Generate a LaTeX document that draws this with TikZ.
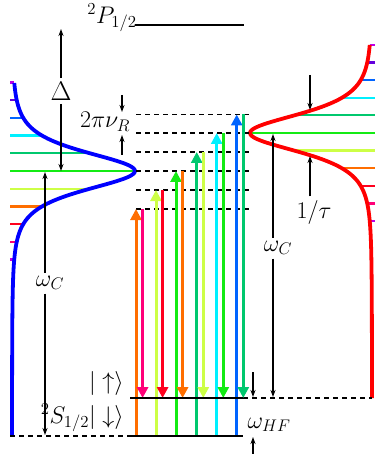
\RequirePackage{fix-cm}
\documentclass[tikz,border=0pt]{standalone}
\usepackage{fontspec}
\setmainfont{Liberation Serif}
\usepackage{amsmath,amssymb}
\usetikzlibrary{arrows.meta,calc}
\definecolor{spviolet}{RGB}{190,0,230}
\definecolor{sppurple}{RGB}{100,0,220}
\definecolor{spblue}{RGB}{0,100,255}
\definecolor{spcyan}{RGB}{0,240,255}
\definecolor{spteal}{RGB}{0,200,110}
\definecolor{spgreen}{RGB}{20,235,20}
\definecolor{spyellow}{RGB}{205,255,70}
\definecolor{sporange}{RGB}{255,110,0}
\definecolor{spred}{RGB}{255,0,30}
\definecolor{spmagenta}{RGB}{255,0,120}
\newcommand{\ramanpair}[4]{%
  \draw[ramanup,#3] (#1,436) -- (#1,#2);
  \draw[ramandown,#4] ({#1+6.6},#2) -- ({#1+6.6},398);
}

\begin{document}
\begin{tikzpicture}[x=1pt,y=-1pt,font=\fontsize{24}{27}\selectfont,
    level/.style={line width=2.6pt},
    virt/.style={line width=1.4pt,dash pattern=on 5pt off 4pt},
    hint/.style={line width=1.2pt,-{Stealth[length=7pt,width=5pt]}},
    comb/.style={line width=2.2pt},
    gain/.style={line width=3.8pt},
    ramanup/.style={line width=3pt,-{Triangle[length=11pt,width=11pt]}},
    ramandown/.style={line width=3pt,-{Triangle[length=11pt,width=11pt]}}]
    \useasboundingbox (0,0) rectangle (375,454);
    % frequency combs
    \foreach \k/\c in {-5/spviolet,-4/sppurple,-3/spblue,-2/spcyan,-1/spteal,0/spgreen,
                       1/spyellow,2/sporange,3/spred,4/spmagenta,5/spviolet}{
      \pgfmathsetmacro{\yy}{171+17.7*\k}
      \pgfmathsetmacro{\xe}{12+123/(1+(17.7*\k/35)^2)^2}
      \draw[comb,\c] (10,\yy) -- (\xe,\yy);
      \pgfmathsetmacro{\yr}{133+17.6*\k}
      \pgfmathsetmacro{\xr}{372-122/(1+(17.6*\k/35)^2)^2}
      \draw[comb,\c] (\xr,\yr) -- (375,\yr);
    }
    \draw[gain,blue] plot[domain=-88:265,samples=241,smooth]
      ({12+123/(1+(\x/35)^2)^2},{171+\x});
    \draw[gain,red] plot[domain=-88:265,samples=241,smooth]
      ({372-122/(1+(\x/35)^2)^2},{133+\x});
    % virtual levels
    \foreach \v in {114.5,133,152,171,190,209}
      \draw[virt] (136,\v) -- (250,\v);
    \draw[virt] (10,436) -- (130,436);
    \draw[virt] (243,398) -- (372,398);
    % Raman transitions
    \ramanpair{136}{209}{sporange}{spmagenta}
    \ramanpair{156}{190}{spyellow}{spred}
    \ramanpair{176}{171}{spgreen}{sporange}
    \ramanpair{196.7}{152}{spteal}{spyellow}
    \ramanpair{216.7}{133}{spcyan}{spgreen}
    \ramanpair{236.7}{114.5}{spblue}{spteal}
    % atomic levels
    \draw[level] (135,25) -- (244,25);
    \draw[level] (130,398) -- (243,398);
    \draw[level] (130,436) -- (243,436);
    \node (pl) at (112,18) {$^2P_{1/2}$};
    \node[anchor=east,inner sep=0pt] (up) at (124,383) {$|\uparrow\rangle$};
    \node[anchor=east,inner sep=0pt] (dn) at (124,418) {$^2S_{1/2}|\downarrow\rangle$};
    % detuning and comb spacing
    \node[font=\fontsize{27}{30}\selectfont] (delta) at (61,91) {$\Delta$};
    \draw[hint] (delta.north) -- (61,29);
    \draw[hint] (delta.south) -- (61,171);
    \coordinate (wlt) at (45,172);
    \coordinate (wlb) at (45,435);
    \node (wcl) at (50,283) {$\omega_C$};
    \draw[hint] (wcl.north -| wlt) -- (wlt);
    \draw[hint] (wcl.south -| wlb) -- (wlb);
    \coordinate (wrt) at (273,134);
    \coordinate (wrb) at (273,397);
    \node (wcr) at (278,248) {$\omega_C$};
    \draw[hint] (wcr.north -| wrt) -- (wrt);
    \draw[hint] (wcr.south -| wrb) -- (wrb);
    \node (nu) at (105,122) {$2\pi\nu_R$};
    \draw[hint] (122,95) -- (122,112);
    \draw[hint] (122,155) -- (122,135);
    \coordinate (taul) at (310,156);
    \node (tau) at (314,212) {$1/\tau$};
    \draw[hint] (310,75) -- (310,110);
    \draw[hint] (tau.north -| taul) -- (taul);
    \node (hf) at (269,425) {$\omega_{HF}$};
    \draw[hint] (253,372) -- (253,397);
    \draw[hint] (253,454) -- (253,437);
\end{tikzpicture}
\end{document}
